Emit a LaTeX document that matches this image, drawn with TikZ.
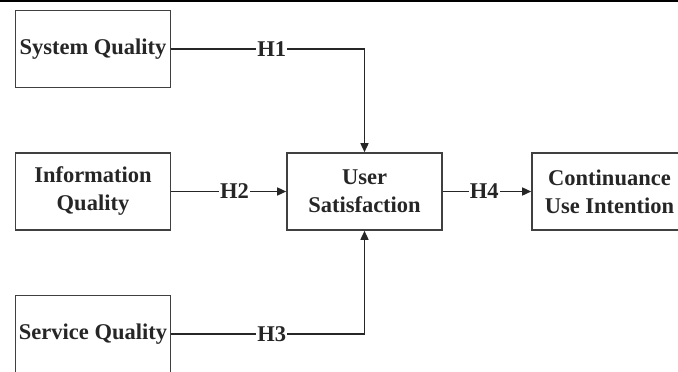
\documentclass[tikz,border=0pt]{standalone}
\usepackage{fontspec}
\setmainfont{Liberation Serif}
\usetikzlibrary{arrows.meta}
\begin{document}
\begin{tikzpicture}[x=1pt,y=-1pt,
  box/.style={draw=black!75, line width=1.6pt, minimum width=155pt, minimum height=77pt, align=center, inner sep=0pt,
    font=\fontsize{22.5}{28}\selectfont\bfseries, text=black!85},
  conn/.style={draw=black!85, line width=1.5pt, -{Triangle[length=9pt,width=8pt]}},
  lab/.style={fill=white, inner sep=1pt, font=\fontsize{22.5}{28}\selectfont\bfseries, text=black!85}]
\useasboundingbox (0,0) rectangle (678,372);
\clip (0,0) rectangle (678,372);
\fill[black] (0,0) rectangle (678,2);
\node[box] (sys) at (93,49) {System Quality};
\node[box] (inf) at (93,191.5) {Information\\Quality};
\node[box] (ser) at (93,334) {Service Quality};
\node[box] (us) at (364.5,191.5) {User\\Satisfaction};
\node[box] (cui) at (609.5,191.5) {Continuance\\Use Intention};
\draw[conn] (sys.east) -| node[lab, pos=0.26] {H1} (us.north);
\draw[conn] (inf.east) -- node[lab, pos=0.55] {H2} (us.west);
\draw[conn] (ser.east) -| node[lab, pos=0.26] {H3} (us.south);
\draw[conn] (us.east) -- node[lab, pos=0.47] {H4} (cui.west);
\end{tikzpicture}
\end{document}
